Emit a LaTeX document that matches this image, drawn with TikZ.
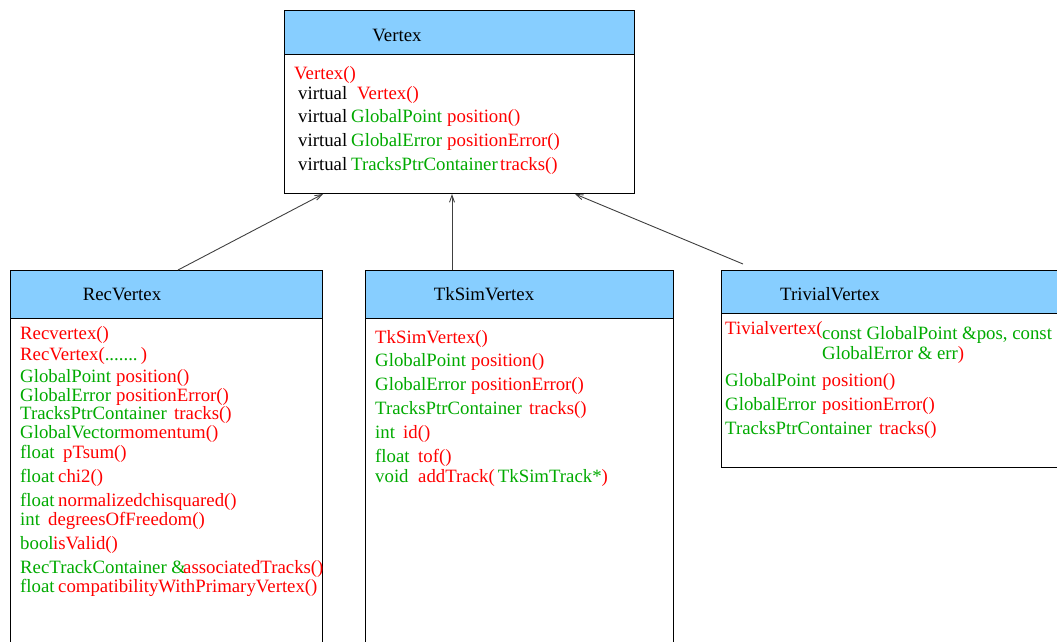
\documentclass[tikz,border=0pt]{standalone}
\usepackage{fontspec}
\setmainfont{Liberation Serif}
\usetikzlibrary{arrows.meta}
\definecolor{umlred}{RGB}{255,0,0}
\definecolor{umlgreen}{RGB}{0,170,0}
\definecolor{umlhead}{RGB}{135,206,255}
\newcommand\gp[3]{\makebox[#1][l]{\textcolor{umlgreen}{#2}}\textcolor{umlred}{#3}}
\newcommand\vgp[3]{\makebox[53pt][l]{virtual}\makebox[#1][l]{\textcolor{umlgreen}{#2}}\textcolor{umlred}{#3}}
\begin{document}
\begin{tikzpicture}[x=1pt,y=-1pt,
  every node/.style={font=\fontsize{18.8}{20}\selectfont},
  boxline/.style={draw=black,line width=1pt},
  headfill/.style={fill=umlhead,draw=black,line width=1pt},
  member/.style={anchor=west,inner sep=0pt,yshift=-1.5pt},
  title/.style={anchor=center,inner sep=0pt,yshift=-1pt},
  inherit/.style={draw=black!75,line width=0.9pt,-{Straight Barb[length=7pt,width=5pt]}}]
\useasboundingbox (0,0) rectangle (1057,642);
\clip (0,0) rectangle (1057,642);
% Vertex
\fill[white] (284,11) rectangle (634,193);
\draw[headfill] (284,11) rectangle (634,55);
\draw[boxline] (284,11) rectangle (634,193);
\coordinate (vtxL) at (323,194);
\coordinate (vtxM) at (452,194);
\coordinate (vtxR) at (575,194);
\node[title] (vt) at (397,34) {Vertex};
\node[member] (v1) at (294,73) {\textcolor{umlred}{Vertex()}};
\node[member] (v2) at (298,93) {\makebox[59pt][l]{virtual}\textcolor{umlred}{Vertex()}};
\node[member] (v3) at (298,116) {\vgp{96pt}{GlobalPoint}{position()}};
\node[member] (v4) at (298,140) {\vgp{96pt}{GlobalError}{positionError()}};
\node[member] (v5) at (298,164) {\vgp{149pt}{TracksPtrContainer}{tracks()}};
% RecVertex
\draw[headfill] (10,270) rectangle (322,318);
\draw[boxline] (10,270) rectangle (322,700);
\coordinate (recT) at (178,270);
\node[title] (rt) at (122,293) {RecVertex};
\node[member] (r1) at (20,333) {\textcolor{umlred}{Recvertex()}};
\node[member] (r2) at (20,354) {\textcolor{umlred}{RecVertex(}\textcolor{umlgreen}{.......}\,\textcolor{umlred}{)}};
\node[member] (r3) at (20,376) {\gp{96pt}{GlobalPoint}{position()}};
\node[member] (r4) at (20,395) {\gp{96pt}{GlobalError}{positionError()}};
\node[member] (r5) at (20,413) {\gp{154pt}{TracksPtrContainer}{tracks()}};
\node[member] (r6) at (20,432) {\gp{100pt}{GlobalVector}{momentum()}};
\node[member] (r7) at (20,452) {\gp{43pt}{float}{pTsum()}};
\node[member] (r8) at (20,476) {\gp{38pt}{float}{chi2()}};
\node[member] (r9) at (20,500) {\gp{38pt}{float}{normalizedchisquared()}};
\node[member] (r10) at (20,519) {\gp{28pt}{int}{degreesOfFreedom()}};
\node[member] (r11) at (20,543) {\gp{33pt}{bool}{isValid()}};
\node[member] (r12) at (20,567) {\gp{163pt}{RecTrackContainer \&}{associatedTracks()}};
\node[member] (r13) at (20,586) {\gp{38pt}{float}{compatibilityWithPrimaryVertex()}};
% TkSimVertex
\draw[headfill] (365,270) rectangle (673,318);
\draw[boxline] (365,270) rectangle (673,700);
\coordinate (tkT) at (452,270);
\node[title] (tt) at (484,293) {TkSimVertex};
\node[member] (t1) at (375,337) {\textcolor{umlred}{TkSimVertex()}};
\node[member] (t2) at (375,360) {\gp{96pt}{GlobalPoint}{position()}};
\node[member] (t3) at (375,384) {\gp{96pt}{GlobalError}{positionError()}};
\node[member] (t4) at (375,408) {\gp{154pt}{TracksPtrContainer}{tracks()}};
\node[member] (t5) at (375,432) {\gp{28pt}{int}{id()}};
\node[member] (t6) at (375,456) {\gp{43pt}{float}{tof()}};
\node[member] (t7) at (375,476) {\gp{43pt}{void}{addTrack(}\textcolor{umlgreen}{\,TkSimTrack*}\textcolor{umlred}{)}};
% TrivialVertex
\draw[headfill] (721,270) rectangle (1100,313);
\draw[boxline] (721,270) rectangle (1100,467);
\coordinate (trT) at (743,264);
\node[title] (trt) at (830,293) {TrivialVertex};
\node[member] (q1) at (725,328) {\textcolor{umlred}{Tivialvertex(}};
\node[member] (q1a) at (822,333) {\textcolor{umlgreen}{const GlobalPoint \&pos, const}};
\node[member] (q1b) at (822,353) {\textcolor{umlgreen}{GlobalError \& err}\textcolor{umlred}{)}};
\node[member] (q2) at (725,380) {\gp{97pt}{GlobalPoint}{position()}};
\node[member] (q3) at (725,404) {\gp{97pt}{GlobalError}{positionError()}};
\node[member] (q4) at (725,428) {\gp{154pt}{TracksPtrContainer}{tracks()}};
% inheritance
\draw[inherit] (recT) -- (vtxL);
\draw[inherit] (tkT) -- (vtxM);
\draw[inherit] (trT) -- (vtxR);
\end{tikzpicture}
\end{document}
